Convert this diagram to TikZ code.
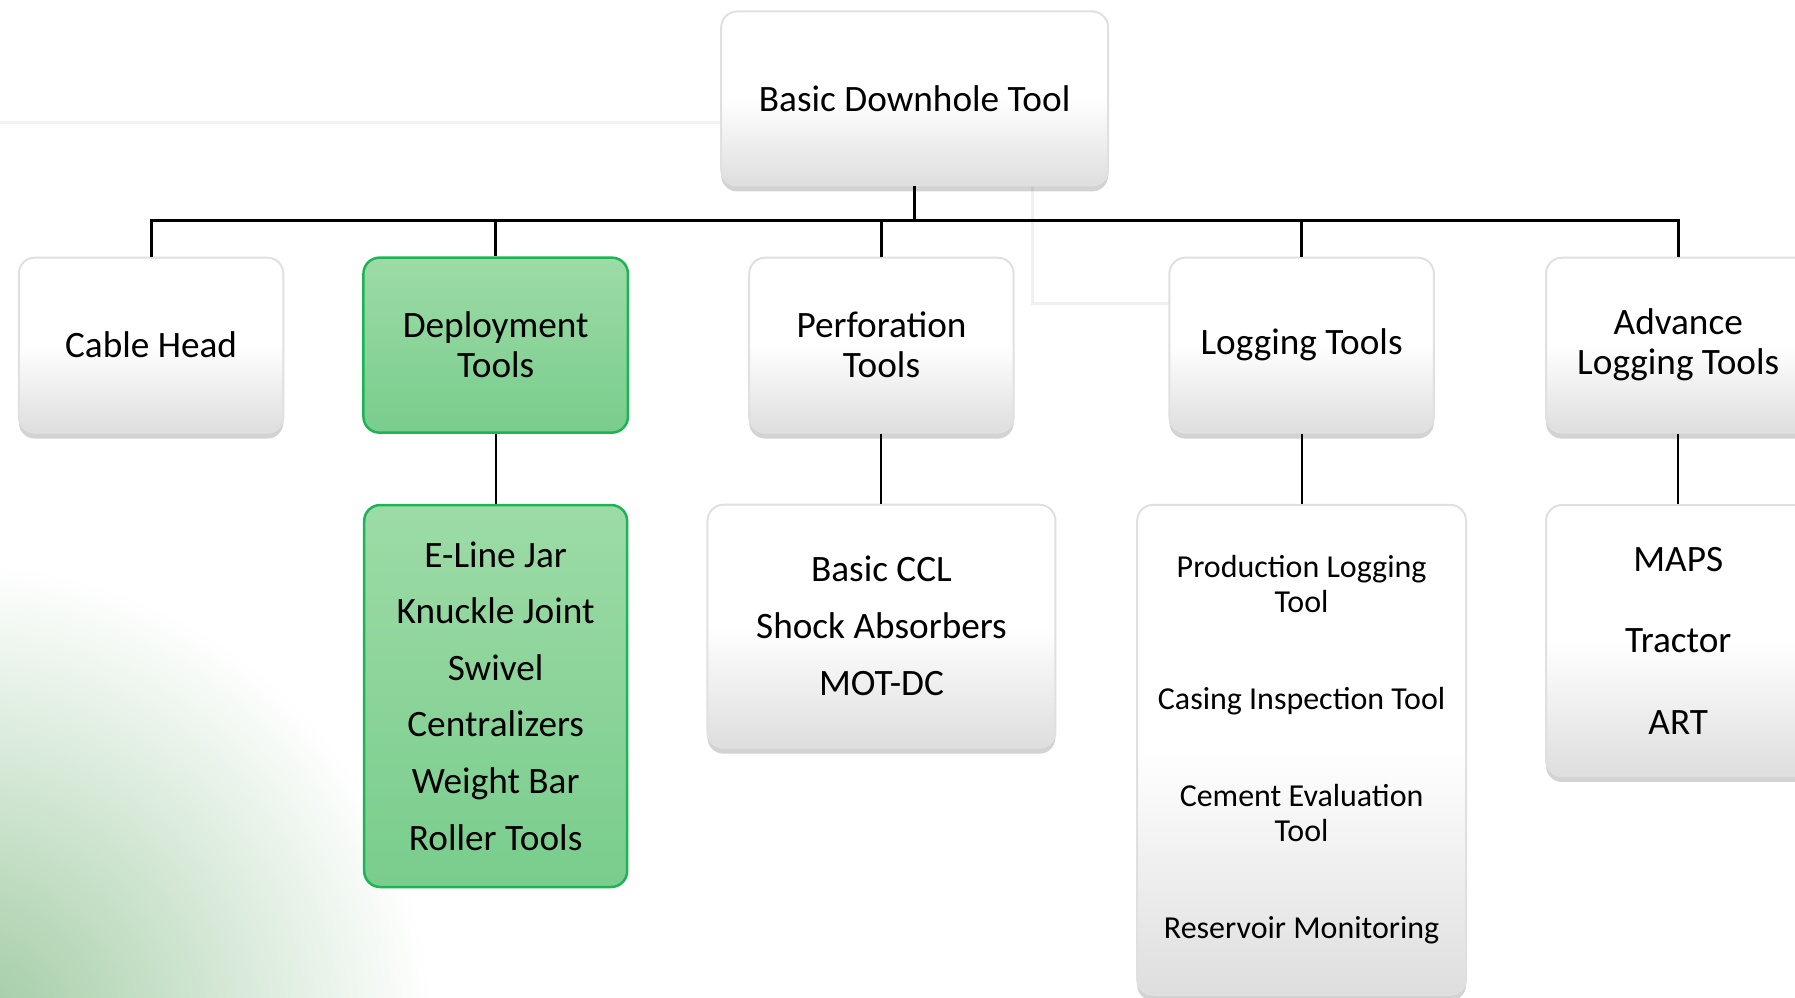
\documentclass[tikz,border=0pt]{standalone}
\usepackage{fontspec}
\setmainfont{Carlito}
\usetikzlibrary{calc}
\usetikzlibrary{shapes, positioning, shadows}

\definecolor{boxgreen}{RGB}{157,219,166}
\definecolor{boxgreendark}{RGB}{121,205,141}
\definecolor{linegreen}{RGB}{30,180,85}
\definecolor{glowgreen}{RGB}{155,200,158}

\begin{document}
\begin{tikzpicture}[x=0.11448mm,y=-0.11448mm,
  toolbox/.style={rounded corners=1.6mm, align=center, inner sep=0pt,
    draw=black!12, line width=.2mm,
    top color=white, bottom color=black!13, middle color=white,
    drop shadow={shadow xshift=0pt, shadow yshift=-0.6mm, opacity=.35}},
  greenbox/.style={rounded corners=1.6mm, align=center, inner sep=0pt,
    draw=linegreen, line width=.25mm, top color=boxgreen, bottom color=boxgreendark},
  levelbox/.style={minimum width=26.45mm, minimum height=17.5mm},
  big/.style={font=\fontsize{10.6}{11.4}\selectfont},
  link/.style={line width=.3mm},
  sublink/.style={line width=.2mm}]
\useasboundingbox (0,0) rectangle (1568,871);
\clip (0,0) rectangle (1568,871);
% background
\shade [inner color=glowgreen, outer color=white] (-40,910) circle (420);
\draw [black!5, line width=.3mm] (0,107) -- (630,107);
\draw [black!6, line width=.3mm] (902,162) -- (902,265) -- (1021,265);

% top
\node [toolbox, big, minimum width=38.7mm, minimum height=17.4mm] (downhole) at (799,86) {Basic Downhole Tool};

% second level
\node [toolbox, big, levelbox] (cable) at (132,301.5) {Cable Head};
\node [greenbox, big, levelbox] (deploy) at (433,301.5) {Deployment\\Tools};
\node [toolbox, big, levelbox] (perf) at (770,301.5) {Perforation\\Tools};
\node [toolbox, big, levelbox] (logging) at (1137,301.5) {Logging Tools};
\node [toolbox, big, levelbox] (advance) at (1466,301.5) {Advance\\Logging Tools};

% third level
\node [greenbox, minimum width=26.3mm, minimum height=38.2mm, font=\fontsize{10.6}{16.1}\selectfont] (deploylist) at (433,608)
  {E-Line Jar\\Knuckle Joint\\Swivel\\Centralizers\\Weight Bar\\Roller Tools};
\node [toolbox, minimum width=34.8mm, minimum height=24.3mm, font=\fontsize{10.6}{16.2}\selectfont] (perflist) at (770,547)
  {Basic CCL\\Shock Absorbers\\MOT-DC};
\node [toolbox, minimum width=32.9mm, minimum height=49mm, font=\fontsize{9.1}{9.8}\selectfont] (loglist) at (1137,655)
  {Production Logging\\Tool\\[6.3mm]Casing Inspection Tool\\[6.3mm]Cement Evaluation\\Tool\\[6.3mm]Reservoir Monitoring};
\node [toolbox, minimum width=26.45mm, minimum height=27.1mm, font=\fontsize{10.6}{23.2}\selectfont] (advlist) at (1466,559.5)
  {MAPS\\Tractor\\ART};

% connectors
\coordinate (bus) at (799,193);
\draw [link] (downhole.south) -- (downhole.south |- bus);
\foreach \n in {cable,deploy,perf,logging,advance}
  \draw [link] (downhole.south |- bus) -| (\n.north);
\draw [sublink] (deploy.south) -- (deploylist.north);
\draw [sublink] (perf.south) -- (perflist.north);
\draw [sublink] (logging.south) -- (loglist.north);
\draw [sublink] (advance.south) -- (advlist.north);
\end{tikzpicture}
\end{document}
